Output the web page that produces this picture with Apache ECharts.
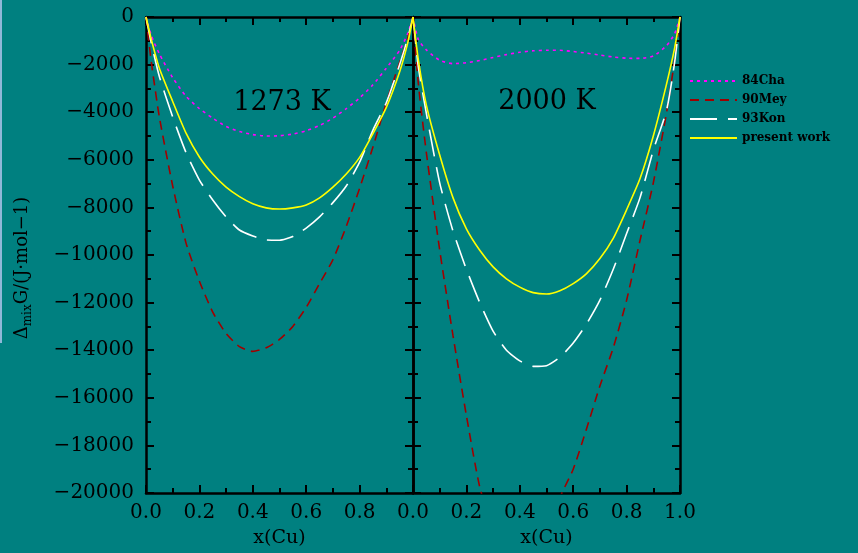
<!DOCTYPE html>
<html>
<head>
<meta charset="utf-8">
<script src="https://cdn.jsdelivr.net/npm/echarts@6/dist/echarts.min.js"></script>
<style>
  html, body { margin: 0; padding: 0; background: #008080; }
  #chart { width: 858px; height: 553px; }
</style>
</head>
<body>
<div id="chart"></div>
<script>
// composition x(Cu)
var xCu = [0, 0.02, 0.05, 0.1, 0.15, 0.2, 0.25, 0.3, 0.35, 0.4, 0.45, 0.5,
           0.55, 0.6, 0.65, 0.7, 0.75, 0.8, 0.85, 0.9, 0.95, 0.98, 1];

// 1273 K
var cha1273 = [0, -780, -1550, -2550, -3330, -3850, -4250, -4600, -4810, -4940, -5000, -4990,
               -4920, -4780, -4560, -4250, -3850, -3400, -2850, -2150, -1400, -700, 0];
var mey1273 = [0, -1900, -4200, -7100, -9500, -11100, -12400, -13300, -13850, -14050, -13900, -13550,
               -13000, -12200, -11200, -10200, -8800, -7200, -5460, -3600, -1900, -900, 0];
var kon1273 = [0, -1100, -2500, -4200, -5700, -6850, -7690, -8400, -8950, -9200, -9370, -9380,
               -9220, -8870, -8400, -7800, -7100, -6100, -4750, -3600, -2000, -900, 0];
var work1273 = [0, -950, -2150, -3550, -4880, -5880, -6600, -7150, -7550, -7850, -8020, -8070,
                -8020, -7900, -7600, -7150, -6600, -5900, -4900, -3800, -2300, -1100, 0];

// 2000 K
var cha2000 = [0, -950, -1380, -1820, -1960, -1920, -1830, -1700, -1580, -1480, -1420, -1400,
               -1400, -1450, -1520, -1600, -1680, -1730, -1740, -1640, -1200, -700, 0];
var mey2000 = [0, -2800, -5700, -9790, -13400, -16750, -19750, -21500, -22500, -23000, -22900, -22000,
               -20200, -19000, -17300, -15500, -13900, -11900, -9400, -6970, -4000, -1800, 0];
var kon2000 = [0, -2100, -4050, -6970, -9000, -10600, -12000, -13200, -14000, -14450, -14680, -14650,
               -14300, -13700, -12900, -11900, -10600, -9100, -7600, -5600, -3900, -1900, 0];
var work2000 = [0, -1800, -3700, -5800, -7600, -8900, -9800, -10500, -11000, -11350, -11580, -11640,
                -11500, -11200, -10780, -10150, -9300, -8100, -6800, -5000, -2800, -1300, 0];

var yMin = -20000, yMax = 0, yStep = 2000;

var names = ['84Cha', '90Mey', '93Kon', 'present work'];
var colors = ['#ff00ff', '#a00000', '#ffffff', '#ffff00'];
var dashes = [[3, 4], [9, 6], [27, 11], 'solid'];

var serif = 'DejaVu Serif';

function pairs(ys) {
    return xCu.map(function (x, i) { return [x, ys[i]]; });
}

var frameLine = { show: true, onZero: false, lineStyle: { color: '#000', width: 2.5 } };
var tick = { show: true, inside: true, length: 8, lineStyle: { color: '#000', width: 2 } };
var minor = { show: true, splitNumber: 2, length: 5, lineStyle: { color: '#000', width: 2 } };

function xAxisFor(gi, labels) {
    return [{
        type: 'value', gridIndex: gi, min: 0, max: 1, interval: 0.2,
        position: 'bottom',
        name: 'x(Cu)', nameLocation: 'middle', nameGap: 36,
        nameTextStyle: { color: '#000', fontFamily: serif, fontSize: 19 },
        axisLine: frameLine, axisTick: tick, minorTick: minor,
        splitLine: { show: false },
        axisLabel: {
            color: '#000', fontFamily: serif, fontSize: 20, margin: 10,
            formatter: function (v) { return (!labels && v === 1) ? '' : v.toFixed(1); }
        }
    }, {
        type: 'value', gridIndex: gi, min: 0, max: 1, interval: 0.2,
        position: 'top',
        axisLine: frameLine, axisTick: tick, minorTick: minor,
        splitLine: { show: false },
        axisLabel: { show: false }
    }];
}

function yAxisFor(gi, labels) {
    var left = {
        type: 'value', gridIndex: gi, min: yMin, max: yMax, interval: yStep,
        position: 'left',
        axisLine: frameLine, axisTick: tick, minorTick: minor,
        splitLine: { show: false },
        axisLabel: {
            show: labels, color: '#000', fontFamily: serif, fontSize: 20, margin: 12,
            formatter: function (v) { return v < 0 ? '\u2212' + Math.abs(v) : String(v); }
        }
    };
    if (labels) {
        left.name = '{a|\u0394}{b|mix}{c|G/(J\u00b7mol\u22121)}';
        left.nameLocation = 'middle';
        left.nameRotate = 90;
        left.nameGap = 112;
        left.nameTextStyle = {
            color: '#000', fontFamily: serif, fontSize: 18,
            padding: [0, 26, 0, 0],
            rich: {
                a: { color: '#000', fontFamily: serif, fontSize: 18, lineHeight: 24, verticalAlign: 'middle' },
                b: { color: '#000', fontFamily: serif, fontSize: 12, lineHeight: 24, verticalAlign: 'bottom' },
                c: { color: '#000', fontFamily: serif, fontSize: 18, lineHeight: 24, verticalAlign: 'middle' }
            }
        };
    }
    var right = {
        type: 'value', gridIndex: gi, min: yMin, max: yMax, interval: yStep,
        position: 'right',
        axisLine: frameLine, axisTick: tick, minorTick: minor,
        splitLine: { show: false },
        axisLabel: { show: false }
    };
    return [left, right];
}

var panels = [
    [cha1273, mey1273, kon1273, work1273],
    [cha2000, mey2000, kon2000, work2000]
];

var series = [];
panels.forEach(function (sets, gi) {
    sets.forEach(function (ys, k) {
        series.push({
            name: names[k],
            type: 'line',
            xAxisIndex: gi * 2,
            yAxisIndex: gi * 2,
            data: pairs(ys),
            smooth: 0.2,
            symbol: 'none',
            clip: true,
            lineStyle: { color: colors[k], width: 1.6, type: dashes[k] },
            itemStyle: { color: colors[k] },
            z: 2 + k
        });
    });
});

var chart = echarts.init(document.getElementById('chart'), null, { renderer: 'canvas' });
chart.setOption({
    backgroundColor: '#008080',
    animation: false,
    grid: [
        { left: 146, top: 17, width: 267, height: 476 },
        { left: 413, top: 17, width: 267, height: 476 }
    ],
    xAxis: xAxisFor(0, false).concat(xAxisFor(1, true)),
    yAxis: yAxisFor(0, true).concat(yAxisFor(1, false)),
    legend: {
        orient: 'vertical',
        left: 684, top: 70,
        itemWidth: 47, itemHeight: 12, itemGap: 7,
        data: names,
        itemStyle: { opacity: 0 },
        textStyle: { color: '#000', fontFamily: serif, fontSize: 12, fontWeight: 'bold' }
    },
    graphic: [
        { type: 'rect', left: 0, top: 0, shape: { width: 2, height: 343 }, style: { fill: '#8fb8d8' } },
        { type: 'text', x: 282, y: 103, style: { text: '1273 K', fill: '#000', font: '27px "DejaVu Serif"', textAlign: 'center', textVerticalAlign: 'middle' } },
        { type: 'text', x: 547, y: 102, style: { text: '2000 K', fill: '#000', font: '27px "DejaVu Serif"', textAlign: 'center', textVerticalAlign: 'middle' } }
    ],
    series: series
});
</script>
</body>
</html>
